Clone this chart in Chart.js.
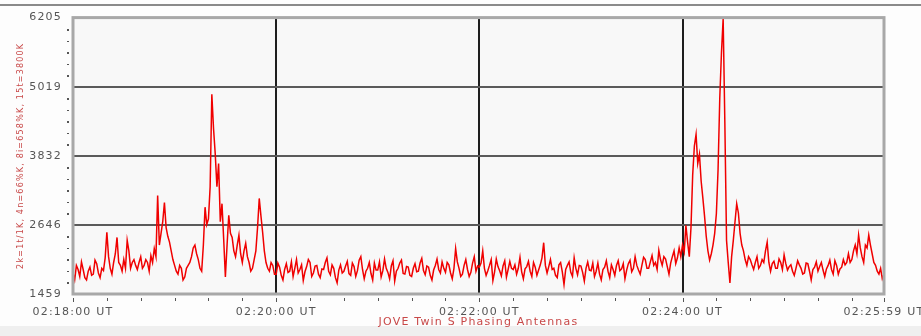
<!DOCTYPE html>
<html>
<head>
<meta charset="utf-8">
<script src="https://cdn.jsdelivr.net/npm/chart.js@4.4.1/dist/chart.umd.min.js"></script>
<style>
  html, body { margin: 0; padding: 0; background: #fdfdfd; }
  #wrap { width: 921px; height: 336px; }
</style>
</head>
<body>
<div id="wrap"><canvas id="jove"></canvas></div>
<script>
// seconds after 02:18:00 UT, one reading per second
const endSec = 479;
const xTickSecs = [0, 120, 240, 360, 479];
const xTickLabels = ["02:18:00 UT", "02:20:00 UT", "02:22:00 UT", "02:24:00 UT", "02:25:59 UT"];
const yTicks = [1459, 2646, 3832, 5019, 6205];

// signal level, 20 s per row
const level = [
  1820,1700,1950,1880,1760,2010,1880,1740,1700,1850,1920,1780,1800,2040,1980,1820,1740,1900,1860,2080,
  2520,2100,1900,1800,2000,2150,2430,2000,1950,1850,2050,1900,2380,2200,1900,2000,2050,1950,1880,2000,
  2100,1900,1950,2050,2000,1850,2120,2000,2240,2100,3150,2300,2500,2700,3030,2600,2450,2350,2200,2050,
  1950,1850,1800,1950,1900,1700,1750,1900,1950,2000,2100,2250,2300,2150,2050,1900,1850,2300,2950,2650,
  2750,3300,4890,4300,3870,3300,3700,2700,3010,2400,1750,2300,2810,2500,2430,2200,2100,2300,2470,2150,
  2000,2200,2330,2100,2000,1850,1900,2050,2200,2600,3100,2800,2520,2200,2000,1900,1850,2000,1950,1800,
  1800,1990,1920,1780,1700,1880,1980,1830,1850,2010,1760,1900,2050,1820,1880,1960,1690,1840,1930,2050,
  2000,1760,1820,1940,1950,1800,1740,1890,1880,2000,2080,1850,1790,1960,1900,1740,1650,1870,1960,1820,
  1850,1940,2020,1810,1780,1990,1930,1760,1860,2040,2100,1880,1720,1850,1900,2000,1810,1700,1990,1870,
  1870,2010,1750,1860,2060,1900,1830,1720,1940,2030,1680,1850,1900,1990,2040,1810,1800,1930,1920,1780,
  1760,1900,1980,1840,1850,1990,2070,1860,1790,1940,1920,1780,1700,1870,1950,2060,1880,1820,2010,1900,
  1830,2000,1960,1820,1720,1900,2240,2010,1900,1760,1800,1950,2050,1880,1760,1830,1990,2100,1850,1940,
  1920,1990,2200,1900,1780,1860,1950,2050,1690,1840,2060,1930,1860,1770,1940,2030,1750,1880,2020,1900,
  1880,1960,1800,1900,2090,1840,1720,1890,1930,2020,1850,1760,2000,1920,1780,1870,1960,2080,2340,1950,
  1820,1930,2050,1880,1900,1780,1740,1960,2000,1840,1620,1880,1950,2010,1830,1760,2080,1900,1790,1950,
  1940,1830,1680,1900,2010,1870,1860,1990,1760,1850,1990,1800,1700,1880,1920,2030,1850,1740,1960,1880,
  1780,1950,2030,1860,1890,1980,1720,1870,1980,2040,1840,1900,2100,1950,1870,1800,1950,2090,2050,1900,
  1900,2010,2120,1950,2000,1880,2210,2050,1950,2100,2060,1930,1800,1990,2100,2200,1980,2080,2250,2100,
  2300,2180,2640,2350,2100,2600,3500,4000,4200,3700,3860,3400,3110,2800,2450,2200,2040,2150,2300,2500,
  2840,3600,4820,5600,6190,4400,2380,2000,1650,2100,2380,2700,3010,2850,2500,2300,2200,2050,1950,2100,
  2050,1960,1880,2000,2100,1900,1950,2050,2000,2200,2350,2000,1850,1980,2020,1900,1900,2060,2000,1880,
  2130,1980,1870,1930,1960,1850,1780,1900,2030,1960,1900,1800,1820,1990,1980,1850,1700,1880,1920,2010,
  1850,1930,2000,1870,1760,1890,1950,2040,1880,1800,2030,1950,1800,1890,1920,2050,1960,2000,2150,2000,
  2050,2200,2300,2150,2470,2250,2100,2000,2300,2250,2470,2300,2150,2000,1950,1850,1800,1900,1720,1800
];

const points = level.map((v, i) => ({ x: i, y: v }));

const frame = {
  id: "frame",
  beforeDraw(chart) {
    const c = chart.ctx, a = chart.chartArea;
    c.save();
    // top rule and bottom band of the window
    c.fillStyle = "#efefef";
    c.fillRect(0, 326, chart.width, chart.height - 326);
    c.fillStyle = "#8a8a8a";
    c.fillRect(0, 4, chart.width, 2);
    c.fillStyle = "#f8f8f8";
    c.fillRect(a.left, a.top, a.right - a.left, a.bottom - a.top);
    c.restore();
    c.letterSpacing = "1.2px";
  },
  afterDatasetsDraw(chart) {
    const c = chart.ctx, a = chart.chartArea;
    const xs = chart.scales.x, ys = chart.scales.y;
    c.save();
    c.strokeStyle = "#a8a8a8";
    c.lineWidth = 3;
    c.strokeRect(a.left, a.top, a.right - a.left, a.bottom - a.top);
    // minor ticks, every 20 s below, dots along the left
    c.fillStyle = "#555";
    for (let s = 0; s <= 480; s += 20) {
      const px = xs.getPixelForValue(Math.min(s, endSec));
      c.fillRect(Math.round(px), a.bottom + 4, 1, s % 120 === 0 ? 4 : 3);
    }
    for (let k = 0; k < yTicks.length - 1; k++) {
      const step = (yTicks[k + 1] - yTicks[k]) / 6;
      for (let j = 1; j < 6; j++) {
        const py = ys.getPixelForValue(yTicks[k] + j * step);
        c.fillRect(a.left - 6, Math.round(py), 2, j % 2 ? 2 : 1);
      }
    }
    c.restore();
  }
};

new Chart(document.getElementById("jove"), {
  type: "line",
  data: {
    datasets: [{
      data: points,
      borderColor: "#f00000",
      borderWidth: 1.5,
      pointRadius: 0,
      tension: 0,
    }],
  },
  options: {
    responsive: true,
    maintainAspectRatio: false,
    animation: false,
    events: [],
    layout: { padding: { top: 16, right: 37, bottom: 0, left: 0 } },
    plugins: { legend: { display: false }, tooltip: { enabled: false } },
    scales: {
      x: {
        type: "linear",
        min: 0,
        max: endSec,
        afterFit: (s) => { s.height = 42; s.paddingLeft = 0; s.paddingRight = 0; },
        afterBuildTicks: (s) => { s.ticks = xTickSecs.map((v) => ({ value: v })); },
        ticks: {
          autoSkip: false,
          maxRotation: 0,
          padding: 12,
          color: "#555",
          font: { family: "DejaVu Sans", size: 11 },
          callback: (v) => xTickLabels[xTickSecs.indexOf(v)],
        },
        grid: {
          drawTicks: false,
          color: "#1e1e1e",
          lineWidth: 2,
        },
        border: { display: false },
        title: {
          display: true,
          text: "JOVE Twin S Phasing Antennas",
          color: "#c84848",
          font: { family: "DejaVu Sans", size: 11 },
          padding: { top: 0, bottom: 7 },
        },
      },
      y: {
        min: yTicks[0],
        max: yTicks[yTicks.length - 1],
        afterFit: (s) => { s.width = 73; },
        afterBuildTicks: (s) => { s.ticks = yTicks.map((v) => ({ value: v })); },
        ticks: {
          padding: 11,
          color: "#555",
          font: { family: "DejaVu Sans", size: 11 },
          callback: (v) => String(v),
        },
        grid: {
          drawTicks: false,
          color: "#5a5a5a",
          lineWidth: 2,
        },
        border: { display: false },
        title: {
          display: true,
          text: "2k=1t/1K, 4n=66%K, 8i=658%K, 15t=3800K",
          color: "#c84848",
          font: { family: "DejaVu Sans", size: 8 },
          padding: { top: 16, bottom: 0 },
        },
      },
    },
  },
  plugins: [frame],
});
</script>
</body>
</html>
